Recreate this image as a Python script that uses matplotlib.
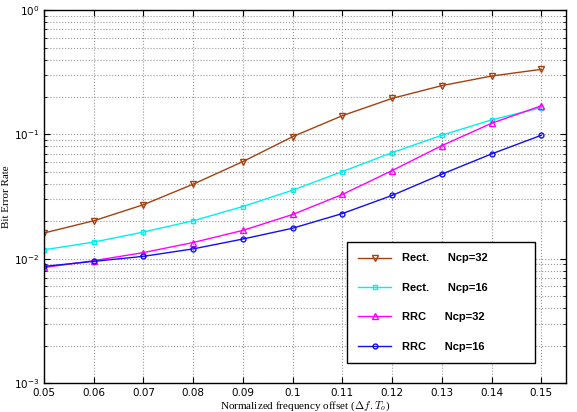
import numpy as np
from matplotlib import pyplot as plt
from matplotlib.ticker import LogLocator, NullFormatter

#Normalized frequency offset values
offset = [0.05, 0.06, 0.07, 0.08, 0.09, 0.10, 0.11, 0.12, 0.13, 0.14, 0.15]

#BER curves
ber_rect_32 = [0.0161, 0.0202, 0.0272, 0.0398, 0.0605, 0.096, 0.1416, 0.195, 0.247, 0.295, 0.334]
ber_rect_16 = [0.0118, 0.0136, 0.0164, 0.0202, 0.0263, 0.0356, 0.0503, 0.0714, 0.0985, 0.131, 0.164]
ber_rrc_32 = [0.0085, 0.00964, 0.0112, 0.0135, 0.0169, 0.0227, 0.0329, 0.0512, 0.0813, 0.123, 0.170]
ber_rrc_16 = [0.00867, 0.00952, 0.01045, 0.0120, 0.0144, 0.0176, 0.0231, 0.0323, 0.0479, 0.0697, 0.0985]

labels = ["Rect.      Ncp=32", "Rect.      Ncp=16", "RRC      Ncp=32", "RRC      Ncp=16"]
xtick_labels = ["0.05", "0.06", "0.07", "0.08", "0.09", "0.1", "0.11", "0.12", "0.13", "0.14", "0.15"]

plt.rcParams['mathtext.fontset'] = 'cm'

fig = plt.figure(figsize=(5.77, 4.12), dpi=100)
ax = fig.add_axes([0.0763, 0.0704, 0.905, 0.905])

ax.semilogy(offset, ber_rect_32, '-v', color='#a5410e', lw=1.0, ms=4, mfc='none', mew=1.0, label=labels[0])
ax.semilogy(offset, ber_rect_16, '-s', color='#00f0f0', lw=1.0, ms=3.5, mfc='none', mew=1.0, label=labels[1])
ax.semilogy(offset, ber_rrc_32, '-^', color='#ff00ff', lw=1.0, ms=4, mfc='none', mew=1.0, label=labels[2])
ax.semilogy(offset, ber_rrc_16, '-o', color='#1010f0', lw=1.0, ms=3.5, mfc='none', mew=1.0, label=labels[3])

ax.set_xlim(0.05, 0.155)
ax.set_ylim(1e-3, 1)
ax.set_xticks(offset)
ax.set_xticklabels(xtick_labels, fontsize=7.5)
ax.yaxis.set_major_locator(LogLocator(base=10, numticks=10))
ax.yaxis.set_minor_locator(LogLocator(base=10, subs=np.arange(2, 10), numticks=10))
ax.yaxis.set_minor_formatter(NullFormatter())
ax.tick_params(axis='y', labelsize=7.5)
ax.tick_params(which='both', direction='in', top=True, right=True)
ax.tick_params(which='major', length=4)
ax.tick_params(which='minor', length=2)

ax.grid(True, which='major', linestyle=':', color='#999999', lw=0.8)
ax.grid(True, which='minor', axis='y', linestyle=':', color='#999999', lw=0.8)
for sp in ax.spines.values():
    sp.set_linewidth(1.0)

ax.set_xlabel(r"Normalized frequency offset ($\Delta f.T_o$)", family='Liberation Serif', fontsize=8, labelpad=1)
ax.set_ylabel("Bit Error Rate", family='Liberation Serif', fontsize=8, labelpad=2)

leg = ax.legend(loc='lower left', bbox_to_anchor=(0.580, 0.054, 0.360, 0.324), mode='expand',
                fancybox=False, edgecolor='black', framealpha=1.0, labelspacing=1.75,
                prop={'weight': 'bold', 'size': 8, 'family': 'Liberation Sans'},
                handlelength=3.0, handletextpad=1.0, borderpad=1.0, borderaxespad=0)
leg.get_frame().set_linewidth(1.0)
leg._legend_box.align = 'left'

plt.savefig("out.png", dpi=100)
